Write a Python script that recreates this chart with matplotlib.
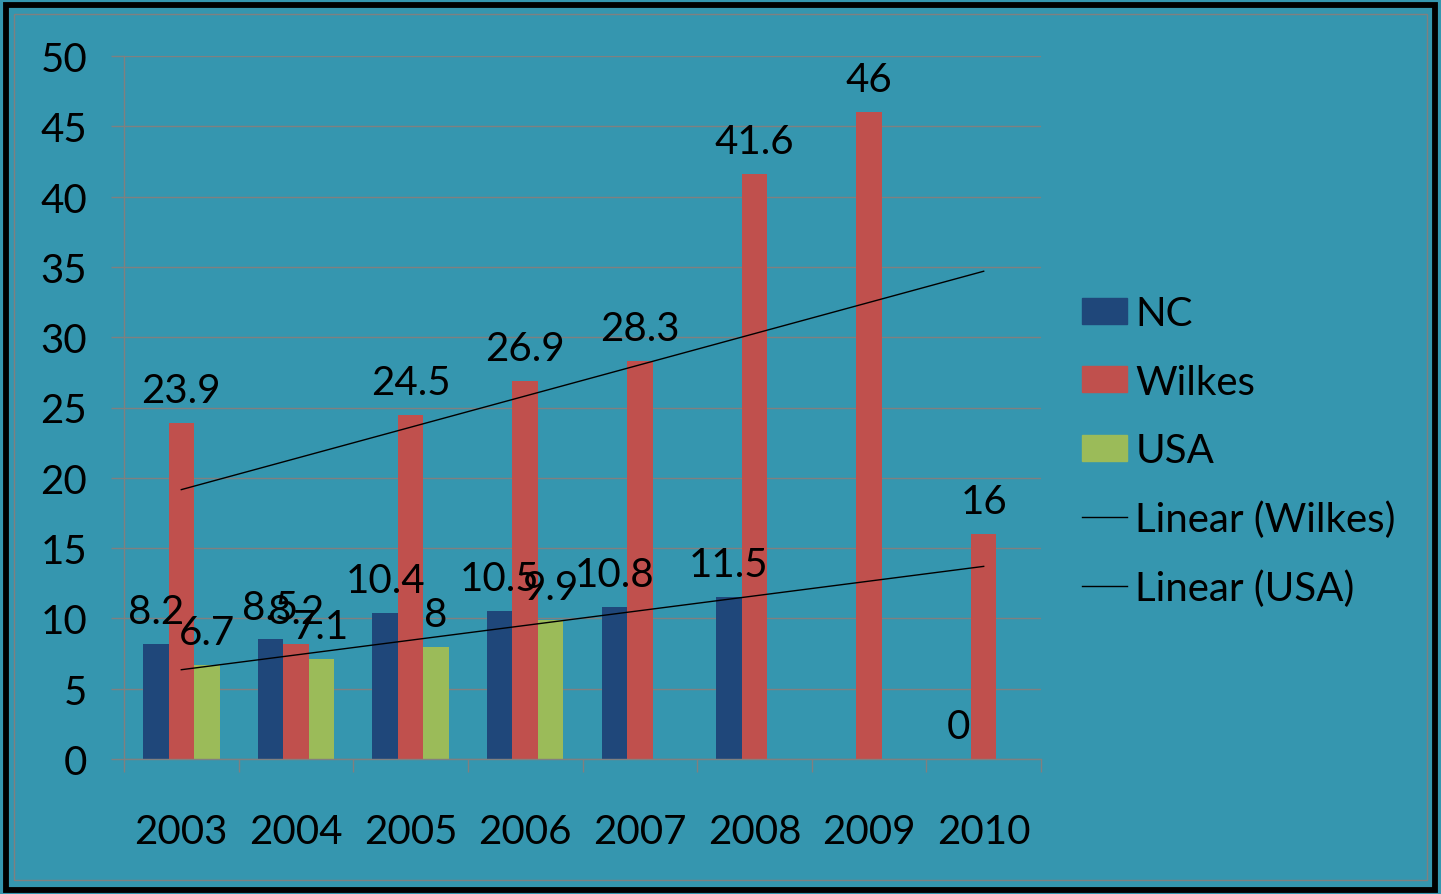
import numpy as np
import matplotlib.pyplot as plt
from matplotlib.patches import Rectangle, Patch
from matplotlib.lines import Line2D

years = ['2003', '2004', '2005', '2006', '2007', '2008', '2009', '2010']
nc = [8.2, 8.5, 10.4, 10.5, 10.8, 11.5, np.nan, 0]
wilkes = [23.9, 8.2, 24.5, 26.9, 28.3, 41.6, 46, 16]
usa = [6.7, 7.1, 8, 9.9, np.nan, np.nan, np.nan, np.nan]

bg = '#3596AF'
c_nc = '#1F477A'
c_wilkes = '#C0504D'
c_usa = '#9BBB59'
grid_c = '#808080'

plt.rcParams['font.family'] = ['Lato', 'DejaVu Sans']
fs = 29

W, H = 1441, 895
fig = plt.figure(figsize=(W / 100, H / 100), dpi=100, facecolor=bg)

# frame around the chart
fig.patches.append(Rectangle((5.5 / W, 1 - 890.5 / H), 1429 / W, 885 / H, transform=fig.transFigure,
                             fill=False, ec='black', lw=4.2, zorder=0))
fig.patches.append(Rectangle((14 / W, 1 - 881 / H), 1413 / W, 866 / H, transform=fig.transFigure,
                             fill=False, ec=grid_c, lw=1.0, zorder=0))

ax = fig.add_axes([124 / W, (H - 760) / H, (1041 - 124) / W, (760 - 57) / H])
ax.set_facecolor(bg)

x = np.arange(len(years))
bw = 0.2225
series = [(nc, c_nc, 'NC', -bw), (wilkes, c_wilkes, 'Wilkes', 0), (usa, c_usa, 'USA', bw)]
for vals, col, name, off in series:
    v = np.array(vals, dtype=float)
    ax.bar(x + off, np.nan_to_num(v), bw, color=col, zorder=2)
    for xi, vi in zip(x + off, v):
        if np.isnan(vi):
            continue
        ax.annotate(f'{vi:g}', (xi, vi), xytext=(0, 10), textcoords='offset points',
                    ha='center', va='bottom', fontsize=fs, color='black', zorder=4)

# linear trendlines (least squares, like Excel)
w = np.array(wilkes)
pw = np.polyfit(x + 1, w, 1)
ax.plot([0, 7], np.polyval(pw, np.array([1, 8])), color='black', lw=1.0, zorder=3)
u = np.array(usa[:4])
pu = np.polyfit(np.arange(1, 5), u, 1)
ax.plot([0, 7], np.polyval(pu, np.array([1, 8])), color='black', lw=1.0, zorder=3)

ax.set_xlim(-0.5, 7.5)
ax.set_ylim(0, 50)
ax.set_yticks(range(0, 51, 5))
ax.grid(axis='y', color=grid_c, lw=1.0, zorder=1)
ax.set_axisbelow(True)
for s in ['top', 'right']:
    ax.spines[s].set_visible(False)
for s in ['left', 'bottom']:
    ax.spines[s].set_color(grid_c)
    ax.spines[s].set_linewidth(1.0)

ax.tick_params(axis='y', length=9.4, width=1.0, color=grid_c, pad=17, labelsize=fs)
ax.set_xticks(np.arange(-0.5, 8, 1))
ax.set_xticklabels([])
ax.tick_params(axis='x', which='major', length=9, width=1.0, color=grid_c)
ax.set_xticks(x, minor=True)
ax.set_xticklabels(years, minor=True)
ax.tick_params(axis='x', which='minor', length=0, pad=39, labelsize=fs)

handles = [Patch(color=c_nc), Patch(color=c_wilkes), Patch(color=c_usa),
           Line2D([], [], color='black', lw=1.0), Line2D([], [], color='black', lw=1.0)]
labels = ['NC', 'Wilkes', 'USA', 'Linear (Wilkes)', 'Linear (USA)']
fig.legend(handles, labels, loc='upper left', bbox_to_anchor=(1066 / W, 1 - 280 / H),
           frameon=False, fontsize=fs, handlelength=1.12, handleheight=0.62,
           handletextpad=0.2, labelspacing=0.78, borderaxespad=0)

fig.savefig('out.png', dpi=100, facecolor=bg)
